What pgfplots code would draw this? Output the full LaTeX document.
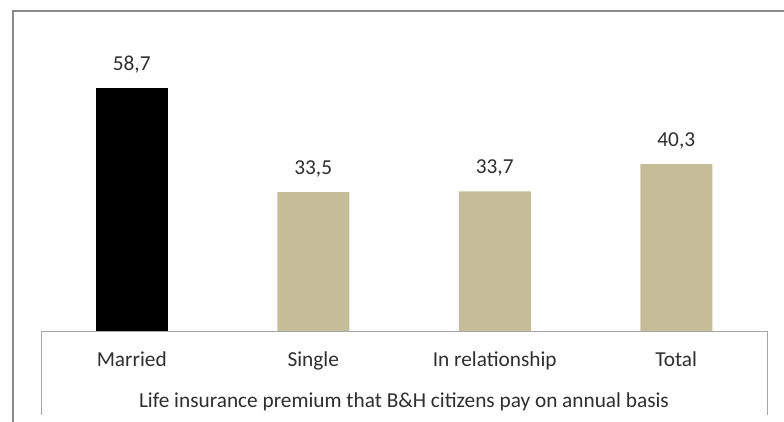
\documentclass[border=0pt]{standalone}
\usepackage{pgfplots}
\pgfplotsset{compat=1.18}
\usepackage{fontspec}
\setmainfont{Carlito}
\definecolor{tan}{HTML}{C4BD97}
\definecolor{framegray}{HTML}{8A8A8A}
\definecolor{axisgray}{HTML}{A6A6A6}
\begin{document}
\fontsize{21.3bp}{25bp}\selectfont
\begin{tikzpicture}
\path[use as bounding box] (-41bp,-91bp) rectangle (743bp,331bp);
\clip (-41bp,-91bp) rectangle (743bp,331bp);
\draw[framegray, line width=2bp] (-27.5bp,-120bp) -- (-27.5bp,319.5bp) -- (800bp,319.5bp);
\begin{axis}[
  at={(0,0)}, anchor=south west,
  scale only axis, width=726bp, height=290bp,
  xmin=-0.5, xmax=3.5, ymin=0, ymax=70,
  ybar, bar width=72bp,
  axis x line*=bottom, axis y line=none,
  x axis line style={axisgray, line width=1bp},
  xtick={0,1,2,3},
  xticklabels={Married, Single, In relationship, Total},
  major tick length=0pt,
  xticklabel style={anchor=base, inner sep=0pt, yshift=-35bp, text=black!82},
  /pgf/number format/assume math mode=true,
  nodes near coords={\pgfmathprintnumber[fixed, fixed zerofill, precision=1, use comma]{\pgfplotspointmeta}},
  every node near coord/.append style={inner sep=0pt, yshift=14.5bp, text=black!82},
  clip=false,
]
\addplot[fill=black, draw=none, bar shift=0pt] coordinates {(0,58.7)};
\addplot[fill=tan, draw=none, bar shift=0pt] coordinates {(1,33.5) (2,33.7) (3,40.3)};
\draw[axisgray, line width=1bp] (rel axis cs:0,0) -- ([yshift=-84bp]rel axis cs:0,0);
\draw[axisgray, line width=1bp] (rel axis cs:1,0) -- ([yshift=-84bp]rel axis cs:1,0);
\node[anchor=base, inner sep=0pt, yshift=-76bp, text=black!82] at (rel axis cs:0.5,0) {Life insurance premium that B\&H citizens pay on annual basis};
\end{axis}
\end{tikzpicture}
\end{document}
